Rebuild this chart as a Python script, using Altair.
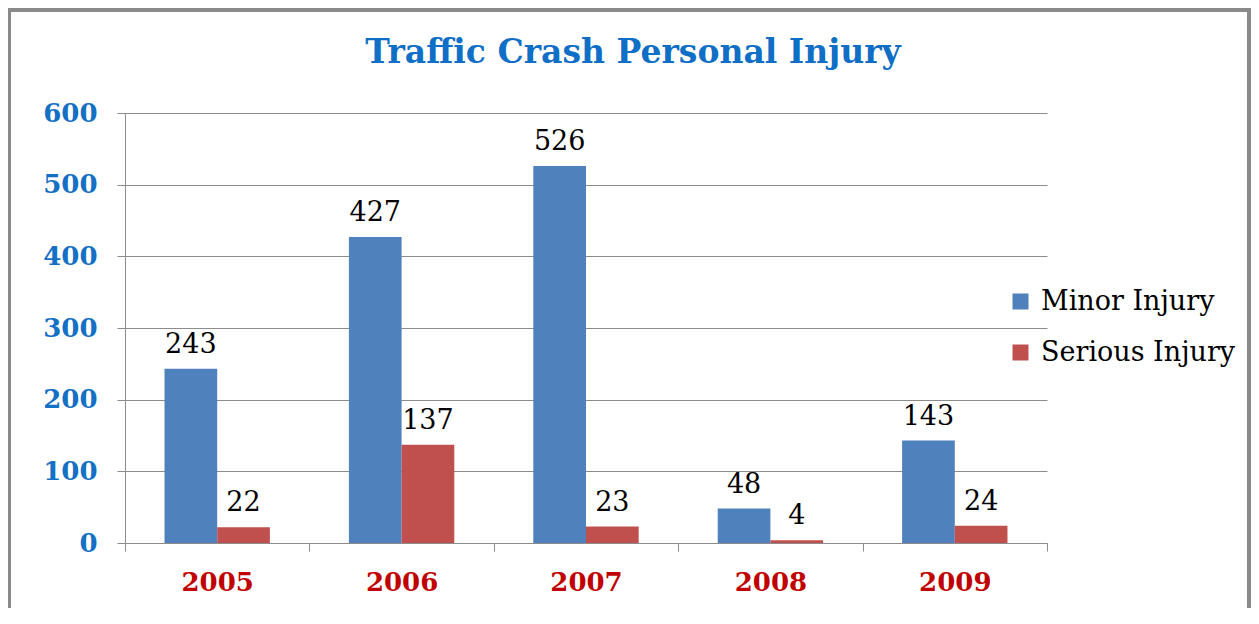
import altair as alt
import pandas as pd

years = ["2005", "2006", "2007", "2008", "2009"]
minor = [243, 427, 526, 48, 143]
serious = [22, 137, 23, 4, 24]
series = ["Minor Injury", "Serious Injury"]
colors = ["#4F81BD", "#C0504D"]

rows = []
for i, y in enumerate(years):
    rows.append({"year": y, "series": series[0], "value": minor[i]})
    rows.append({"year": y, "series": series[1], "value": serious[i]})
df = pd.DataFrame(rows)

FONT = "DejaVu Serif"

x = alt.X("year:N", sort=years, title=None,
          scale=alt.Scale(paddingInner=0, paddingOuter=0),
          axis=alt.Axis(labelAngle=0, labelFont=FONT, labelFontWeight="bold",
                        labelFontSize=26, labelColor="#C00000", labelPadding=18,
                        tickBand="extent", tickSize=8, tickColor="#8c8c8c",
                        domainColor="#8c8c8c", grid=False))
xoff = alt.XOffset("series:N", sort=series,
                   scale=alt.Scale(paddingInner=0, paddingOuter=0.75))
y = alt.Y("value:Q", title=None,
          scale=alt.Scale(domain=[0, 600], nice=False),
          axis=alt.Axis(values=[0, 100, 200, 300, 400, 500, 600],
                        labelFont=FONT, labelFontWeight="bold", labelFontSize=26,
                        labelColor="#1470C4", labelPadding=20, tickSize=8,
                        tickColor="#8c8c8c", domainColor="#8c8c8c",
                        gridColor="#8c8c8c", gridWidth=1))

bars = alt.Chart(df).mark_bar().encode(
    x=x, xOffset=xoff, y=y,
    color=alt.Color("series:N", sort=series,
                    scale=alt.Scale(domain=series, range=colors),
                    legend=alt.Legend(title=None, orient="none", legendX=882, legendY=175,
                                      symbolType="square", symbolSize=256,
                                      symbolStrokeWidth=0, labelLimit=400,
                                      labelFont=FONT, labelFontSize=27,
                                      labelColor="#000000", labelOffset=7,
                                      rowPadding=23)),
)

labels = alt.Chart(df).mark_text(font=FONT, fontSize=27, color="#000000",
                                 baseline="alphabetic", dy=-16).encode(
    x=x, xOffset=xoff, y=y, text=alt.Text("value:Q"))

frame = alt.Chart(df).mark_rect(fill=None, stroke="#8a8a8a", strokeWidth=3.5).encode(
    x=alt.value(-116), x2=alt.value(1124), y=alt.value(-103), y2=alt.value(600))

chart = alt.layer(frame, bars, labels).properties(
    width=922, height=430,
    padding={"left": 117, "top": 105, "right": 204, "bottom": 65},
    autosize=alt.AutoSizeParams(type="none"),
    title=alt.TitleParams("Traffic Crash Personal Injury", font=FONT, fontSize=33,
                          fontWeight="bold", color="#0F6FC6", anchor="middle",
                          dx=47, offset=-62),
).configure_view(stroke=None)

chart.save("out.html", embed_options={"renderer": "svg", "actions": False})
